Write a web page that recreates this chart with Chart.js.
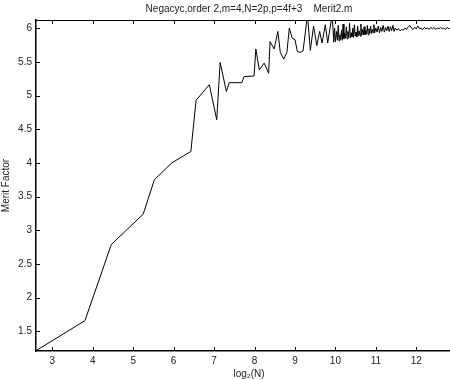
<!DOCTYPE html>
<html>
<head>
<meta charset="utf-8">
<script src="https://cdn.jsdelivr.net/npm/chart.js@4/dist/chart.umd.min.js"></script>
<style>
  html, body { margin: 0; padding: 0; background: #fff; overflow: hidden; }
  #clip { width: 450px; height: 380px; overflow: hidden; }
  /* the axes run a little past the right edge of the picture, as in the reference */
  #wrap { width: 462px; height: 380px; }
</style>
</head>
<body>
<div id="clip"><div id="wrap"><canvas id="c"></canvas></div></div>
<script>
// log2(N) positions, N = 2p, p = 4f+3
var logN = [
	2.585, 3.807, 4.459, 5.248, 5.524, 5.954, 6.426, 6.555, 6.883, 7.066,
	7.150, 7.304, 7.375, 7.686, 7.741, 7.989, 8.033, 8.119, 8.238, 8.349,
	8.384, 8.484, 8.577, 8.637, 8.721, 8.801, 8.860, 8.930, 9.000, 9.060,
	9.130, 9.200, 9.310, 9.380, 9.460, 9.540, 9.610, 9.670, 9.750, 9.810,
	9.920, 9.960,
	9.98, 10.00, 10.03, 10.05, 10.07, 10.09, 10.11, 10.13, 10.15, 10.17,
	10.19, 10.21, 10.23, 10.25, 10.27, 10.29, 10.31, 10.33, 10.35, 10.37,
	10.39, 10.41, 10.43, 10.45, 10.47, 10.49, 10.51, 10.53, 10.55, 10.57,
	10.59, 10.61, 10.63, 10.65, 10.67, 10.69, 10.71, 10.73, 10.75, 10.77,
	10.79, 10.81, 10.83, 10.85, 10.87, 10.89, 10.91, 10.93, 10.95, 10.97,
	11.00, 11.03, 11.06, 11.09, 11.12, 11.15, 11.18, 11.21, 11.24, 11.27,
	11.30, 11.33, 11.36, 11.39, 11.42, 11.45, 11.48,
	11.52, 11.56, 11.60, 11.64, 11.68, 11.72, 11.76, 11.80, 11.84, 11.88,
	11.92, 11.96, 12.00, 12.04, 12.08, 12.12, 12.16, 12.20, 12.24, 12.28,
	12.32, 12.36, 12.40, 12.44, 12.48, 12.52, 12.56, 12.60, 12.64, 12.68,
	12.72, 12.76, 12.80, 12.84, 12.88, 12.92
];
var merit = [
	1.21, 1.66, 2.79, 3.24, 3.75, 4.00, 4.17, 4.93, 5.16, 4.64,
	5.49, 5.06, 5.19, 5.19, 5.28, 5.29, 5.69, 5.38, 5.48, 5.33,
	5.80, 5.69, 5.95, 5.64, 5.54, 5.64, 6.00, 5.85, 5.83, 5.65,
	5.64, 5.66, 6.20, 5.67, 6.03, 5.74, 5.95, 5.78, 6.05, 5.78,
	6.20, 5.79,
	6.00, 5.80, 5.95, 5.82, 6.04, 5.81, 5.90, 5.83, 5.97, 5.82,
	6.06, 5.84, 5.92, 5.85, 6.02, 5.84, 5.95, 5.86, 6.07, 5.85,
	5.93, 5.87, 6.00, 5.86, 6.05, 5.88, 5.94, 5.87, 6.03, 5.89,
	5.96, 5.88, 6.06, 5.89, 5.98, 5.90, 6.02, 5.90, 5.97, 5.91,
	6.04, 5.90, 5.99, 5.92, 6.03, 5.92, 5.98, 5.93, 6.05, 5.93,
	6.00, 5.94, 6.03, 5.93, 6.01, 5.95, 6.04, 5.94, 6.01, 5.96,
	6.03, 5.95, 6.02, 5.96, 6.04, 5.95, 6.00,
	5.97, 5.99, 5.96, 5.98, 5.97, 6.00, 5.98, 6.02, 6.04, 6.00,
	5.98, 6.01, 5.99, 6.03, 5.99, 6.00, 5.98, 6.01, 5.99, 6.00,
	5.98, 6.01, 5.99, 6.01, 5.98, 6.00, 5.99, 6.01, 5.99, 6.00,
	5.98, 6.01, 5.99, 6.00, 5.99, 6.00
];
var xTicks = [3, 4, 5, 6, 7, 8, 9, 10, 11, 12];
var yTicks = [1.5, 2, 2.5, 3, 3.5, 4, 4.5, 5, 5.5, 6];

var points = [];
for (var i = 0; i < logN.length; i++) {
	points.push({x: logN[i], y: merit[i]});
}

var FONT = 'Liberation Sans, Arial, Helvetica, sans-serif';

// matlab style: box on top, ticks pointing inwards
var innerTicks = {
	id: 'innerTicks',
	afterDraw: function(chart) {
		var ctx = chart.ctx, a = chart.chartArea;
		var xs = chart.scales.x, ys = chart.scales.y;
		ctx.save();
		ctx.strokeStyle = '#000';
		ctx.lineWidth = 1;
		ctx.beginPath();
		ctx.moveTo(a.left, a.top + 0.5);
		ctx.lineTo(a.right, a.top + 0.5);
		for (var k = 0; k < xTicks.length; k++) {
			var px = Math.round(xs.getPixelForValue(xTicks[k])) + 0.5;
			ctx.moveTo(px, a.bottom);
			ctx.lineTo(px, a.bottom - 4);
			ctx.moveTo(px, a.top);
			ctx.lineTo(px, a.top + 4);
		}
		for (var j = 0; j < yTicks.length; j++) {
			var py = Math.round(ys.getPixelForValue(yTicks[j])) + 0.5;
			ctx.moveTo(a.left, py);
			ctx.lineTo(a.left + 4, py);
		}
		ctx.stroke();
		ctx.restore();
	}
};

function fixedTicks(list) {
	return function(scale) {
		scale.ticks = list.map(function(v) { return {value: v}; });
	};
}

new Chart(document.getElementById('c'), {
	type: 'line',
	data: {
		datasets: [{
			data: points,
			borderColor: '#000',
			borderWidth: 1,
			pointRadius: 0,
			tension: 0,
			fill: false
		}]
	},
	options: {
		responsive: true,
		maintainAspectRatio: false,
		animation: false,
		events: [],
		layout: {padding: 0},
		plugins: {
			legend: {display: false},
			tooltip: {enabled: false},
			title: {
				display: true,
				fullSize: false, // centre over the axes, not the page
				text: 'Negacyc,order 2,m=4,N=2p,p=4f+3    Merit2.m',
				color: '#222',
				font: {family: FONT, size: 10, weight: 'normal'},
				padding: {top: 3, bottom: 5}
			}
		},
		scales: {
			x: {
				type: 'linear',
				min: 2.597,
				max: 13.13,
				afterBuildTicks: fixedTicks(xTicks),
				afterFit: function(s) { s.height = 29; },
				ticks: {
					color: '#222',
					padding: 4,
					maxRotation: 0,
					autoSkip: false,
					font: {family: FONT, size: 10}
				},
				grid: {drawOnChartArea: false, drawTicks: false},
				border: {color: '#000', width: 1.5},
				title: {
					display: true,
					text: 'log\u2082(N)',
					color: '#222',
					padding: 0,
					font: {family: FONT, size: 10}
				}
			},
			y: {
				min: 1.21,
				max: 6.12,
				afterBuildTicks: fixedTicks(yTicks),
				afterFit: function(s) { s.width = 36; },
				ticks: {
					color: '#222',
					padding: 4,
					autoSkip: false,
					font: {family: FONT, size: 10},
					callback: function(v) { return '' + v; }
				},
				grid: {drawOnChartArea: false, drawTicks: false},
				border: {color: '#000', width: 1.5},
				title: {
					display: true,
					text: 'Merit Factor',
					color: '#222',
					padding: 0,
					font: {family: FONT, size: 10}
				}
			}
		}
	},
	plugins: [innerTicks]
});
</script>
</body>
</html>
